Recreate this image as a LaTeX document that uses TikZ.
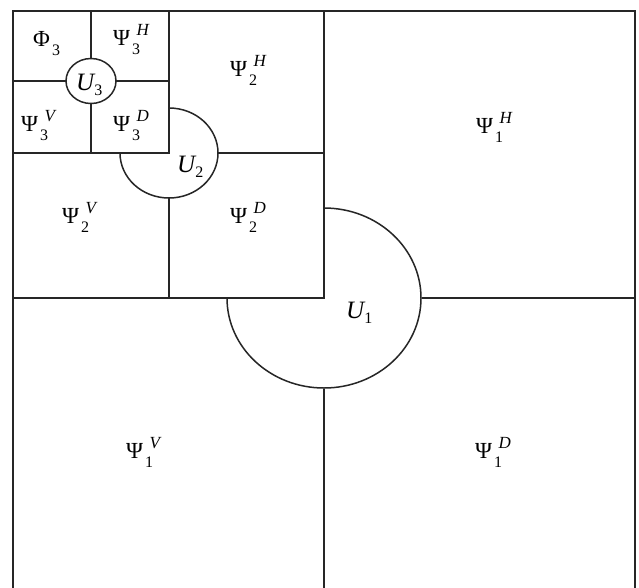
\documentclass[tikz,border=0pt]{standalone}
\usepackage{fontspec}
\setmainfont{Liberation Serif}
\newcommand\lab[3]{#1\kern2pt\rlap{\raisebox{-0.40em}{\fontsize{16}{16}\selectfont #2}}\kern4.5pt\raisebox{0.40em}{\fontsize{17}{17}\selectfont\itshape #3}}
\newcommand\ulab[1]{\fontsize{25}{25}\selectfont\itshape U\upshape\raisebox{-0.2em}{\fontsize{16}{16}\selectfont #1}}
\tikzset{
  ln/.style={line width=1.5pt, draw=black!85},
  lbl/.style={inner sep=0pt, anchor=base west, font=\fontsize{23}{23}\selectfont}
}
\begin{document}
\begin{tikzpicture}[x=1pt,y=-1pt]
\useasboundingbox[fill=white] (0,0) rectangle (639,587);
% outer frame (bottom edge lies beyond the picture)
\draw[ln] (13,600) -- (13,11) -- (635,11) -- (635,600);
% level 1 lines
\draw[ln] (324,11) -- (324,298) -- (13,298);
\draw[ln] (324,389) -- (324,600);
\draw[ln] (422,298) -- (635,298);
% level 2 lines
\draw[ln] (169,11) -- (169,153) -- (13,153);
\draw[ln] (169,198) -- (169,298);
\draw[ln] (218,153) -- (324,153);
% level 3 lines
\draw[ln] (91,11) -- (91,58.5);
\draw[ln] (91,103.5) -- (91,153);
\draw[ln] (13,81) -- (66,81);
\draw[ln] (116,81) -- (169,81);
% U arcs
\draw[ln] (324,208) arc[start angle=90, end angle=-180, x radius=97pt, y radius=90pt];
\draw[ln] (169,108) arc[start angle=90, end angle=-180, x radius=49pt, y radius=45pt];
\draw[ln] (91,81) ellipse [x radius=25pt, y radius=22.5pt];
% labels
\node[lbl] (p1h) at (476,133) {\lab{Ψ}{1}{H}};
\node[lbl] (p1v) at (126,458) {\lab{Ψ}{1}{V}};
\node[lbl] (p1d) at (475,458) {\lab{Ψ}{1}{D}};
\node[lbl] (p2h) at (230,76) {\lab{Ψ}{2}{H}};
\node[lbl] (p2v) at (62,223) {\lab{Ψ}{2}{V}};
\node[lbl] (p2d) at (230,223) {\lab{Ψ}{2}{D}};
\node[lbl] (p3h) at (113,45) {\lab{Ψ}{3}{H}};
\node[lbl] (p3v) at (21,131) {\lab{Ψ}{3}{V}};
\node[lbl] (p3d) at (113,131) {\lab{Ψ}{3}{D}};
\node[lbl] (f3) at (33,46) {\lab{Φ}{3}{}};
\node[lbl] (u1) at (346,318) {\ulab{1}};
\node[lbl] (u2) at (177,172) {\ulab{2}};
\node[lbl] (u3) at (76,90) {\ulab{3}};
\end{tikzpicture}
\end{document}
